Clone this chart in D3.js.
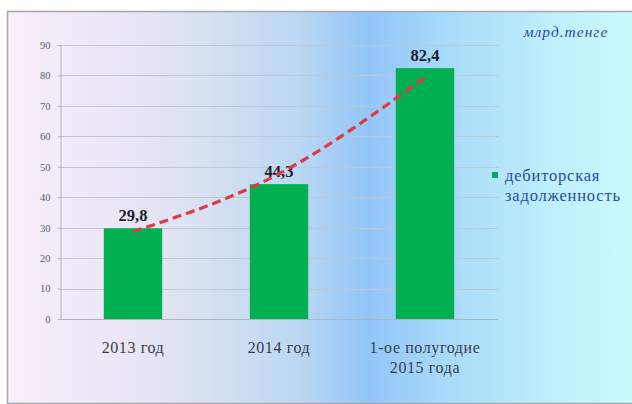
<!DOCTYPE html>
<html>
<head>
<meta charset="utf-8">
<script src="https://cdn.jsdelivr.net/npm/d3@7"></script>
<style>
  html, body { margin: 0; padding: 0; background: #ffffff; }
  svg { display: block; }
</style>
</head>
<body>
<svg id="chart" width="632" height="404"></svg>
<script>
// Receivables by period, bln tenge
const categories = ["2013 год", "2014 год", "1-ое полугодие\n2015 года"];
const receivables = [29.8, 44.3, 82.4];
const valueLabels = ["29,8", "44,3", "82,4"];
// Exponential trend values at each period
const trend = [28.7, 47.7, 79.4];
const yTicks = [0, 10, 20, 30, 40, 50, 60, 70, 80, 90];
const unitLabel = "млрд.тенге";
const legendLines = ["дебиторская", "задолженность"];

const SERIF = '"Liberation Serif", "Times New Roman", Tinos, "Noto Serif", "DejaVu Serif", FreeSerif, serif';

const svg = d3.select("#chart");
const W = 632, H = 404;
const plot = { left: 60, right: 498, top: 45, bottom: 319 };

// Panel background gradient
const defs = svg.append("defs");
const grad = defs.append("linearGradient")
  .attr("id", "panelBg")
  .attr("x1", "0%").attr("x2", "100%").attr("y1", "0%").attr("y2", "0%");
[
  [0, "#faeefa"], [0.18, "#ebe6f5"], [0.32, "#d6e1f1"], [0.46, "#bbd7f3"],
  [0.57, "#93c6f8"], [0.7, "#a9dbfa"], [0.85, "#bdeefb"], [1, "#cbfcfc"]
].forEach(([o, c]) => grad.append("stop").attr("offset", o).attr("stop-color", c));

svg.append("rect")
  .attr("x", 7.5).attr("y", 11.5)
  .attr("width", W).attr("height", H - 12)
  .attr("fill", "url(#panelBg)")
  .attr("stroke", "#a6a6ad").attr("stroke-width", 1.5);

const x = d3.scaleBand()
  .domain(categories)
  .range([plot.left, plot.right])
  .paddingInner(0.6).paddingOuter(0.3);

const y = d3.scaleLinear().domain([0, 90]).range([plot.bottom, plot.top]);

// Gridlines
svg.append("g")
  .selectAll("line")
  .data(yTicks.filter(t => t > 0))
  .join("line")
  .attr("x1", plot.left).attr("x2", plot.right)
  .attr("y1", d => Math.round(y(d)) + 0.5).attr("y2", d => Math.round(y(d)) + 0.5)
  .attr("stroke", "#bfc6d4").attr("stroke-width", 1);

// Y axis
const yAxis = svg.append("g")
  .attr("transform", `translate(${plot.left + 0.5},0)`)
  .call(d3.axisLeft(y).tickValues(yTicks).tickSize(3).tickPadding(7));
yAxis.attr("font-family", null);
yAxis.select(".domain").attr("stroke", "#b0b4bf");
yAxis.selectAll(".tick line").attr("stroke", "#b0b4bf");
yAxis.selectAll(".tick text")
  .style("font-family", SERIF)
  .attr("font-size", 10.5).attr("fill", "#5a5e6a");

// Baseline
svg.append("line")
  .attr("x1", plot.left).attr("x2", plot.right)
  .attr("y1", plot.bottom + 0.5).attr("y2", plot.bottom + 0.5)
  .attr("stroke", "#b0b4bf");

// Bars
svg.append("g")
  .selectAll("rect")
  .data(receivables)
  .join("rect")
  .attr("x", (d, i) => x(categories[i]))
  .attr("width", x.bandwidth())
  .attr("y", d => y(d))
  .attr("height", d => y(0) - y(d))
  .attr("fill", "#00b050");

// Value labels
svg.append("g")
  .selectAll("text")
  .data(receivables)
  .join("text")
  .attr("x", (d, i) => x(categories[i]) + x.bandwidth() / 2)
  .attr("y", d => y(d) - 7)
  .attr("text-anchor", "middle")
  .style("font-family", SERIF)
  .attr("font-weight", "bold")
  .attr("font-size", 16.5)
  .attr("fill", "#1b1d2b")
  .text((d, i) => valueLabels[i]);

// Trend line
const line = d3.line()
  .x((d, i) => x(categories[i]) + x.bandwidth() / 2)
  .y(d => y(d))
  .curve(d3.curveNatural);
svg.append("path")
  .datum(trend)
  .attr("d", line)
  .attr("fill", "none")
  .attr("stroke", "#e03a44")
  .attr("stroke-width", 3.2)
  .attr("stroke-dasharray", "9,5");

// Category labels
const cat = svg.append("g")
  .selectAll("text")
  .data(categories)
  .join("text")
  .attr("x", d => x(d) + x.bandwidth() / 2)
  .attr("y", 353)
  .attr("text-anchor", "middle")
  .style("font-family", SERIF)
  .attr("font-size", 16)
  .attr("letter-spacing", 0.6)
  .attr("fill", "#3a3d48");
cat.each(function (d) {
  const t = d3.select(this);
  d.split("\n").forEach((s, k) => {
    t.append("tspan").attr("x", t.attr("x")).attr("dy", k === 0 ? 0 : 20).text(s);
  });
});

// Unit label
svg.append("text")
  .attr("x", 566).attr("y", 37)
  .attr("text-anchor", "middle")
  .style("font-family", SERIF)
  .attr("font-style", "italic")
  .attr("font-size", 15.5)
  .attr("letter-spacing", 1)
  .attr("fill", "#3548a0")
  .text(unitLabel);

// Legend
svg.append("rect")
  .attr("x", 492).attr("y", 172).attr("width", 6).attr("height", 6)
  .attr("fill", "#00b050");
svg.append("g")
  .selectAll("text")
  .data(legendLines)
  .join("text")
  .attr("x", 505)
  .attr("y", (d, i) => 181 + i * 20)
  .style("font-family", SERIF)
  .attr("font-size", 16.5)
  .attr("letter-spacing", 0.8)
  .attr("fill", "#2c48a8")
  .text(d => d);
</script>
</body>
</html>
